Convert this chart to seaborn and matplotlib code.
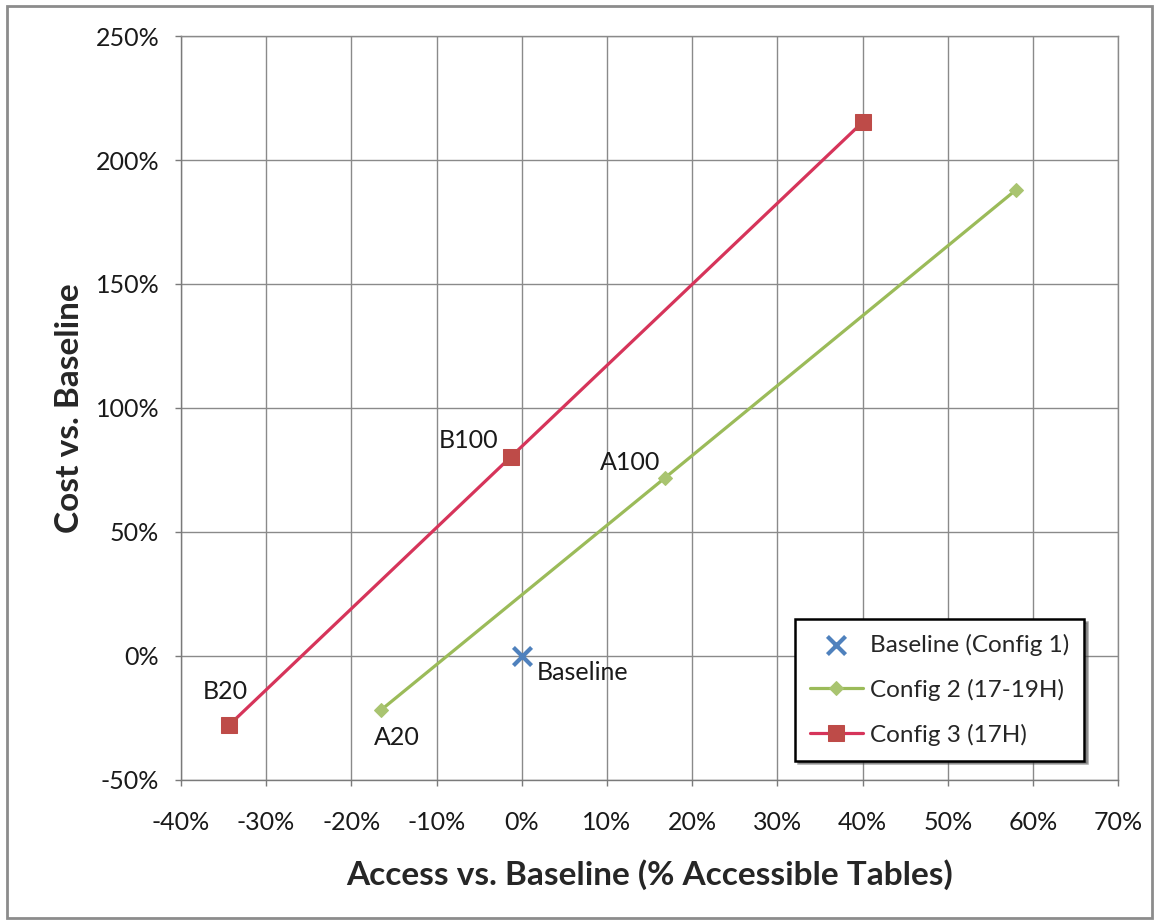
import matplotlib
matplotlib.use("Agg")
import matplotlib.pyplot as plt
from matplotlib.ticker import FuncFormatter, MultipleLocator
import pandas as pd
import seaborn as sns

# Access vs. baseline (%) and cost vs. baseline (%) per configuration
baseline_access = [0.0]
baseline_cost = [0.0]
baseline_labels = ["Baseline"]

config2_access = [-16.5, 16.8, 58.0]
config2_cost = [-21.8, 71.8, 188.0]
config2_labels = ["A20", "A100", ""]

config3_access = [-34.3, -1.3, 40.0]
config3_cost = [-27.8, 80.2, 215.3]
config3_labels = ["B20", "B100", ""]

series_names = ["Baseline (Config 1)", "Config 2 (17-19H)", "Config 3 (17H)"]

df2 = pd.DataFrame({"access": config2_access, "cost": config2_cost})
df3 = pd.DataFrame({"access": config3_access, "cost": config3_cost})
df1 = pd.DataFrame({"access": baseline_access, "cost": baseline_cost})

sns.set_theme(style="whitegrid")
plt.rcParams["font.family"] = ["Lato", "DejaVu Sans"]

fig = plt.figure(figsize=(11.59, 9.24), dpi=100)
ax = fig.add_axes([0.156, 0.156, 0.809, 0.805])

# outer chart border
fig.patches.append(plt.Rectangle((0.006, 0.006), 0.988, 0.988, transform=fig.transFigure,
                                 fill=False, edgecolor="#8c8c8c", linewidth=2.0))

sns.scatterplot(data=df1, x="access", y="cost", ax=ax, marker="x", s=170,
                color="#4F81BD", linewidth=3, label=series_names[0], zorder=5)
sns.lineplot(data=df2, x="access", y="cost", ax=ax, sort=False, color="#9BBB59",
             linewidth=2.3, marker="D", markersize=7, markeredgecolor="#A9C470",
             markerfacecolor="#A9C470", label=series_names[1], zorder=4)
sns.lineplot(data=df3, x="access", y="cost", ax=ax, sort=False, color="#D6345A",
             linewidth=2.3, marker="s", markersize=11, markeredgecolor="#BE4B48",
             markerfacecolor="#BE4B48", label=series_names[2], zorder=4)

# point annotations
label_font = dict(fontsize=18, color="#1a1a1a")
ax.annotate(config3_labels[0], (config3_access[0], config3_cost[0]), xytext=(-3, 24),
            textcoords="offset points", ha="center", va="center", **label_font)
ax.annotate(config3_labels[1], (config3_access[1], config3_cost[1]), xytext=(-30, 12),
            textcoords="offset points", ha="center", va="center", **label_font)
ax.annotate(config2_labels[0], (config2_access[0], config2_cost[0]), xytext=(11, -20),
            textcoords="offset points", ha="center", va="center", **label_font)
ax.annotate(config2_labels[1], (config2_access[1], config2_cost[1]), xytext=(-25, 11),
            textcoords="offset points", ha="center", va="center", **label_font)
ax.annotate(baseline_labels[0], (baseline_access[0], baseline_cost[0]), xytext=(11, -12),
            textcoords="offset points", ha="left", va="center", **label_font)

ax.set_xlim(-40, 70)
ax.set_ylim(-50, 250)
ax.xaxis.set_major_locator(MultipleLocator(10))
ax.yaxis.set_major_locator(MultipleLocator(50))
pct = FuncFormatter(lambda v, _: f"{v:.0f}%")
ax.xaxis.set_major_formatter(pct)
ax.yaxis.set_major_formatter(pct)

ax.grid(True, color="#8a8a8a", linewidth=1.0)
ax.set_facecolor("white")
for side, sp in ax.spines.items():
    sp.set_visible(True)
    sp.set_color("#8a8a8a")
    sp.set_linewidth(1.0)
ax.spines["left"].set_color("#7a7a7a")
ax.spines["bottom"].set_color("#7a7a7a")

ax.tick_params(axis="both", which="major", labelsize=18, colors="#1a1a1a",
               length=4.5, width=1, direction="out", color="#7a7a7a",
               left=True, bottom=True)
ax.tick_params(axis="x", pad=18)
ax.tick_params(axis="y", pad=11)

ax.set_xlabel("Access vs. Baseline (% Accessible Tables)", fontsize=24,
              fontweight="bold", labelpad=18)
ax.set_ylabel("Cost vs. Baseline", fontsize=24, fontweight="bold", labelpad=8)

leg = ax.legend(loc="lower left", bbox_to_anchor=(0.655, 0.026),
                fontsize=17.5, frameon=True, fancybox=False, shadow=True,
                borderpad=0.6, labelspacing=0.95, handlelength=2.2,
                handletextpad=0.3, borderaxespad=0)
leg.get_frame().set_edgecolor("black")
leg.get_frame().set_linewidth(1.8)

fig.savefig("out.png", dpi=100, facecolor="white")
